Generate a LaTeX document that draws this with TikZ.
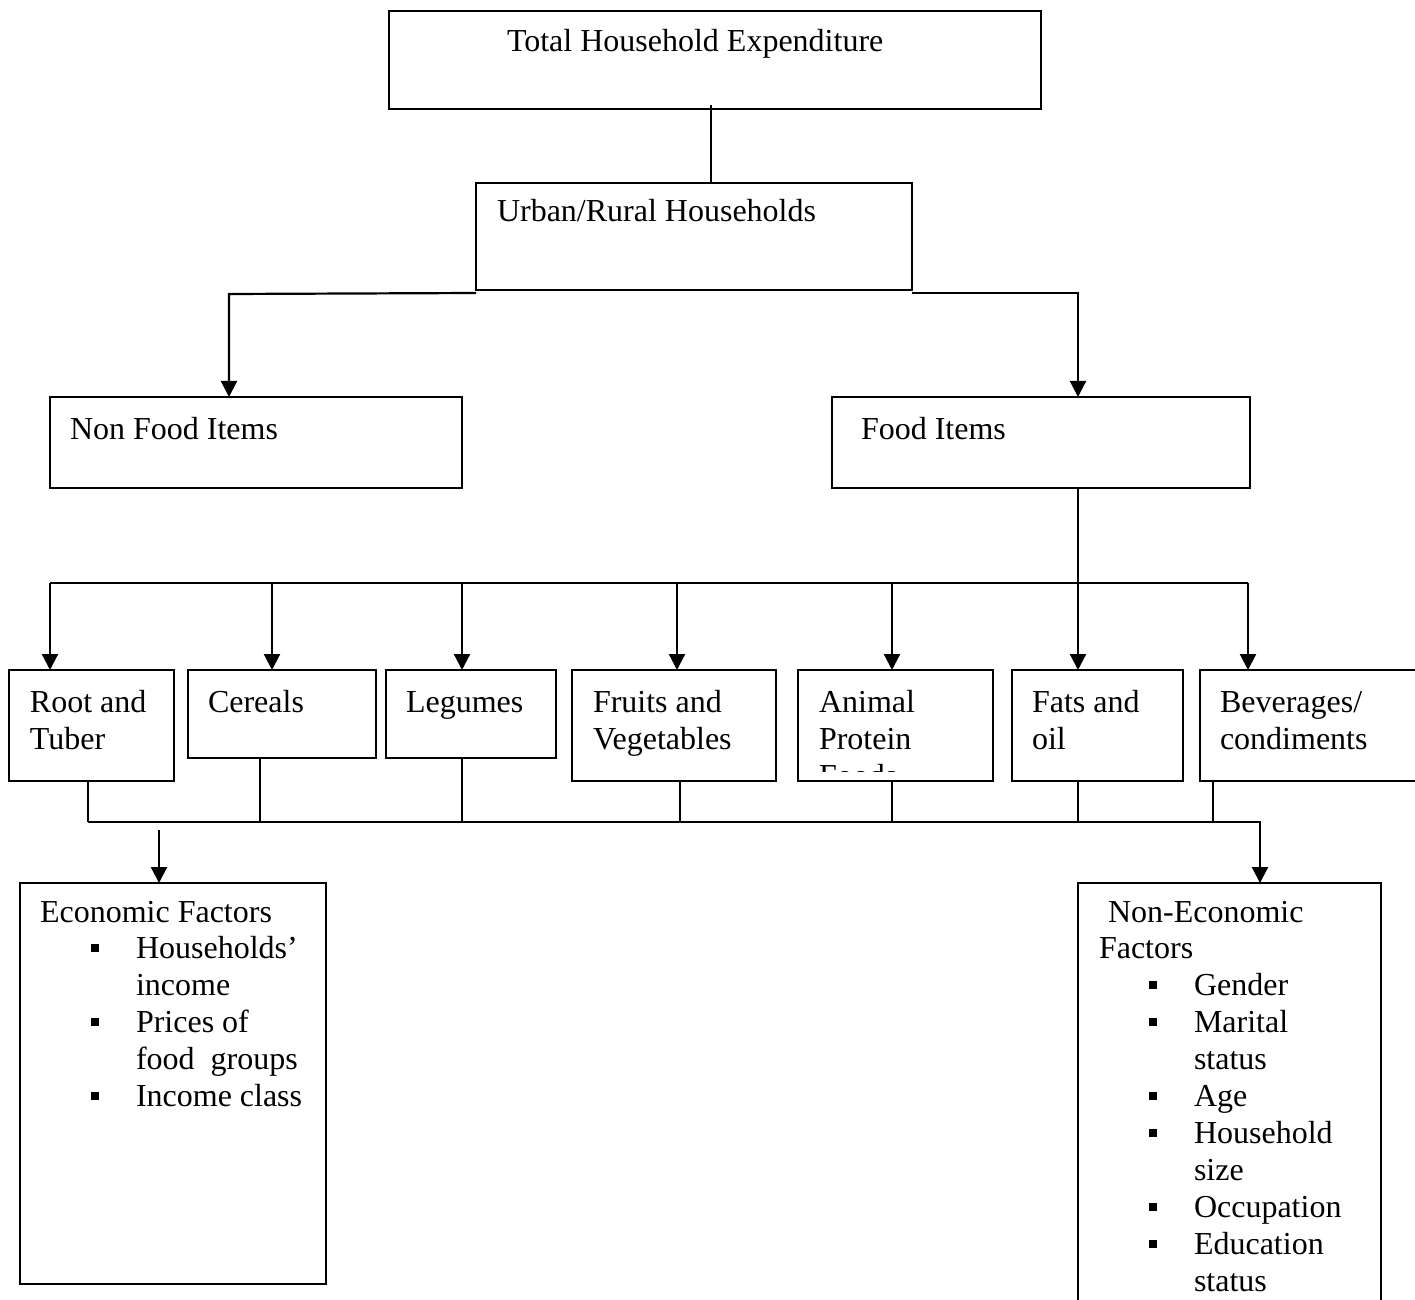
\documentclass[tikz,border=0pt]{standalone}
\usepackage{fontspec}
\setmainfont{Liberation Serif}
\usetikzlibrary{arrows.meta,calc}
\newcommand{\fs}{\fontsize{16pt}{18.5pt}\selectfont}
\newcommand{\ml}[1]{\vtop{\def\\{\egroup\hbox\bgroup}\hbox\bgroup#1\egroup}}
\newcommand{\bul}{\makebox[22.5pt][l]{\raisebox{3pt}{\rule{4.2pt}{4.2pt}}}}
\newcommand{\ind}{\hspace*{22.5pt}}
\newcommand{\mybox}[5]{\node[box,minimum width={(#4-#2)*0.5pt},minimum height={(#5-#3)*0.5pt}] (#1) at (#2,#3) {};}
\tikzset{
  box/.style={draw, line width=1pt, anchor=north west, inner sep=0pt, outer sep=0pt},
  txt/.style={anchor=base west, inner sep=0pt, outer sep=0pt, font=\fs},
  conn/.style={line width=0.75pt},
  arr/.style={line width=1.1pt, -{Triangle[width=8pt,length=8pt]}},
}
\begin{document}
\begin{tikzpicture}[x=0.5pt,y=-0.5pt]
\useasboundingbox (0,0) rectangle (1415,1300);
% boxes
\mybox{tot}{389}{11}{1041}{109}
\mybox{urb}{476}{183}{912}{290}
\mybox{nfood}{50}{397}{462}{488}
\mybox{food}{832}{397}{1250}{488}
\mybox{root}{9}{670}{174}{781}
\mybox{cer}{188}{670}{376}{758}
\mybox{leg}{386}{670}{556}{758}
\mybox{fruit}{572}{670}{776}{781}
\mybox{anim}{798}{670}{993}{781}
\mybox{fats}{1012}{670}{1183}{781}
\mybox{bev}{1200}{670}{1430}{781}
\mybox{econ}{20}{883}{326}{1284}
\mybox{necon}{1078}{883}{1381}{1330}
% texts
\node[txt] (ttot) at (507,52) {Total Household Expenditure};
\node[txt] (turb) at (497,222) {Urban/Rural Households};
\node[txt] (tnfood) at (70,439) {Non Food Items};
\node[txt] (tfood) at (861,439) {Food Items};
\node[txt] (troot) at (30,712) {\ml{Root and\\Tuber}};
\node[txt] (tcer) at (208,712) {Cereals};
\node[txt] (tleg) at (406,712) {Legumes};
\node[txt] (tfruit) at (593,712) {\ml{Fruits and\\Vegetables}};
\begin{scope}
\clip (798,670) rectangle (993,771);
\node[txt] (tanim) at (819,712) {\ml{Animal\\Protein\\Foods}};
\end{scope}
\node[txt] (tfats) at (1032,712) {\ml{Fats and\\oil}};
\node[txt] (tbev) at (1220,712) {\ml{Beverages/\\condiments}};
\node[txt] (tecon) at (40,922) {Economic Factors};
\node[txt] (lecon) at (91,958) {\ml{\bul Households’\\\ind income\\\bul Prices of\\\ind food\ \ groups\\\bul Income class}};
\node[txt] (tnecon) at (1108,922) {Non-Economic};
\node[txt] (tnecon2) at (1099,958) {Factors};
\node[txt] (lnecon) at (1149,995) {\ml{\bul Gender\\\bul Marital\\\ind status\\\bul Age\\\bul Household\\\ind size\\\bul Occupation\\\bul Education\\\ind status}};
% connectors top
\coordinate (c1) at (711,105);
\draw[conn] (c1) -- (c1 |- urb.north);
\coordinate (kL) at (229,294);
\coordinate (kR) at (1078,293);
\draw[arr] ($(urb.south west)+(0,3)$) -- (kL) -- (kL |- nfood.north);
\draw[arr] ($(urb.south east)+(0,3)$) -- (kR) -- (kR |- food.north);
% food to categories
\coordinate (a1) at (50,583);
\coordinate (a2) at (272,583);
\coordinate (a3) at (462,583);
\coordinate (a4) at (677,583);
\coordinate (a5) at (892,583);
\coordinate (a6) at (1078,583);
\coordinate (a7) at (1248,583);
\draw[conn] (kR |- food.south) -- (a6);
\draw[line width=1.1pt] (a1) -- (a7);
\draw[arr] (a1) -- (a1 |- root.north);
\draw[arr] (a2) -- (a2 |- cer.north);
\draw[arr] (a3) -- (a3 |- leg.north);
\draw[arr] (a4) -- (a4 |- fruit.north);
\draw[arr] (a5) -- (a5 |- anim.north);
\draw[arr] (a6) -- (a6 |- fats.north);
\draw[arr] (a7) -- (a7 |- bev.north);
% categories to factors
\coordinate (b1) at (88,822);
\coordinate (b2) at (260,822);
\coordinate (b3) at (462,822);
\coordinate (b4) at (680,822);
\coordinate (b5) at (892,822);
\coordinate (b6) at (1078,822);
\coordinate (b7) at (1213,822);
\coordinate (bR) at (1260,822);
\draw[conn] (b1 |- root.south) -- (b1);
\draw[conn] (b2 |- cer.south) -- (b2);
\draw[conn] (b3 |- leg.south) -- (b3);
\draw[conn] (b4 |- fruit.south) -- (b4);
\draw[conn] (b5 |- anim.south) -- (b5);
\draw[conn] (b6 |- fats.south) -- (b6);
\draw[conn] (b7 |- bev.south) -- (b7);
\draw[arr] (b1) -- (bR) -- (bR |- necon.north);
\coordinate (eL) at (159,830);
\draw[arr] (eL) -- (eL |- econ.north);
\end{tikzpicture}
\end{document}
